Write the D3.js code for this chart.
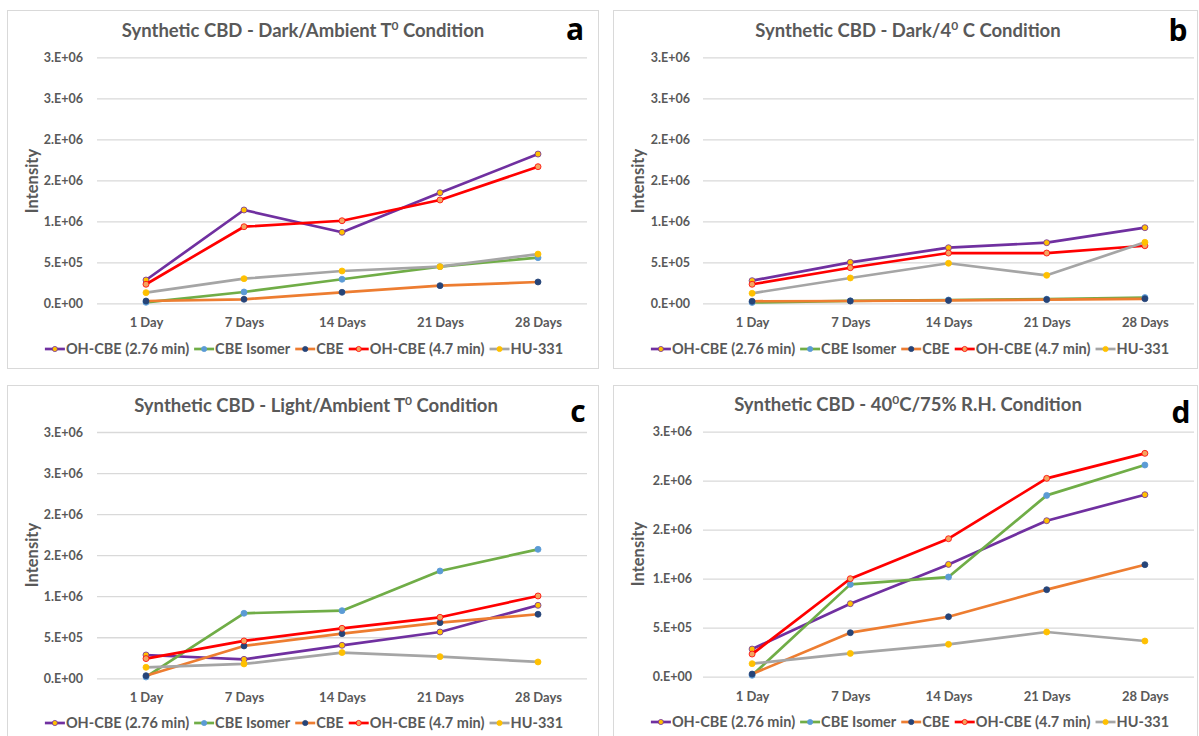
<!DOCTYPE html>
<html>
<head>
<meta charset="utf-8">
<script src="https://cdn.jsdelivr.net/npm/d3@7/dist/d3.min.js"></script>
<style>
  html, body { margin: 0; padding: 0; background: #ffffff; }
  svg { display: block; }
  text { font-family: Lato, "Open Sans", sans-serif; font-weight: 700; fill: #595959; }
</style>
</head>
<body>
<svg id="chart" width="1199" height="736"></svg>
<script>
// ---- data ----
const categories = ["1 Day", "7 Days", "14 Days", "21 Days", "28 Days"];
const seriesNames = ["OH-CBE (2.76 min)", "CBE Isomer", "CBE", "OH-CBE (4.7 min)", "HU-331"];

// tick values for the intensity axes
const ticksTo3M = [0, 5e5, 1e6, 1.5e6, 2e6, 2.5e6, 3e6];
const ticksTo25M = [0, 5e5, 1e6, 1.5e6, 2e6, 2.5e6];

// (a) Dark / ambient temperature — rows follow seriesNames
const darkAmbient = [
  [284000, 1138000, 866000, 1349000, 1820000],
  [12000, 138000, 293000, 447000, 556000],
  [28000, 49000, 134000, 215000, 260000],
  [232000, 934000, 1007000, 1260000, 1666000],
  [130000, 300000, 394000, 447000, 600000]
];

// (b) Dark / 4 °C
const dark4C = [
  [276000, 500000, 678000, 739000, 922000],
  [10000, 30000, 40000, 50000, 70000],
  [25000, 28000, 35000, 45000, 55000],
  [232000, 434000, 613000, 613000, 702000],
  [122000, 309000, 488000, 341000, 744000]
];

// (c) Light / ambient temperature
const lightAmbient = [
  [284000, 231000, 402000, 564000, 889000],
  [16000, 792000, 824000, 1307000, 1571000],
  [32000, 394000, 544000, 678000, 780000],
  [240000, 455000, 609000, 743000, 1003000],
  [134000, 175000, 313000, 264000, 199000]
];

// (d) 40 °C / 75 % relative humidity
const hotHumid = [
  [282000, 745000, 1146000, 1592000, 1857000],
  [14000, 942000, 1017000, 1850000, 2160000],
  [27000, 449000, 612000, 888000, 1143000],
  [231000, 1000000, 1408000, 2024000, 2279000],
  [133000, 238000, 330000, 456000, 364000]
];

// ---- styling ----
const lineColors = ["#7030A0", "#70AD47", "#ED7D31", "#FF0000", "#A5A5A5"];
const markerFills = ["#FFC000", "#5B9BD5", "#264478", "#F4A460", "#FFC000"];
const markerStrokes = ["#7030A0", "#5B9BD5", "#264478", "#FF0000", "#FFC000"];

// Excel-style "0.E+00" number format
function sciLabel(v) {
  if (v === 0) return "0.E+00";
  let e = Math.floor(Math.log10(Math.abs(v)));
  let m = Math.round(v / Math.pow(10, e));
  if (m >= 10) { m = 1; e += 1; }
  return m + ".E+" + String(e).padStart(2, "0");
}

const svg = d3.select("#chart");

const panels = [
  { data: darkAmbient, ticks: ticksTo3M, letter: "a",
    title: [["Synthetic CBD - Dark/Ambient T", false], ["0", true], [" Condition", false]],
    box: [7, 10, 598, 368], plotX: [97, 587], plotY: [303.3, 57.3],
    tickRight: 83, yTitleX: 32.5, yTitleY: 181, xLabelY: 322, legendY: 349, legendCx: 304,
    titleCx: 303, titleY: 31, letterX: 575, letterY: 29 },
  { data: dark4C, ticks: ticksTo3M, letter: "b",
    title: [["Synthetic CBD - Dark/4", false], ["0", true], [" C Condition", false]],
    box: [613, 10, 1197, 368], plotX: [703, 1194], plotY: [303.3, 57.3],
    tickRight: 690, yTitleX: 638, yTitleY: 181, xLabelY: 322, legendY: 349, legendCx: 910,
    titleCx: 908, titleY: 31, letterX: 1178, letterY: 30 },
  { data: lightAmbient, ticks: ticksTo3M, letter: "c",
    title: [["Synthetic CBD - Light/Ambient T", false], ["0", true], [" Condition", false]],
    box: [7, 385, 598, 745], plotX: [97, 587], plotY: [678.3, 432],
    tickRight: 83, yTitleX: 32.5, yTitleY: 555, xLabelY: 697, legendY: 723, legendCx: 304,
    titleCx: 316, titleY: 406, letterX: 578, letterY: 411 },
  { data: hotHumid, ticks: ticksTo25M, letter: "d",
    title: [["Synthetic CBD - 40", false], ["0", true], ["C/75% R.H. Condition", false]],
    box: [613, 385, 1197, 745], plotX: [703, 1194], plotY: [676.7, 431.7],
    tickRight: 692, yTitleX: 638, yTitleY: 554, xLabelY: 696, legendY: 722, legendCx: 910,
    titleCx: 908, titleY: 405, letterX: 1181, letterY: 412 }
];

panels.forEach(p => {
  const g = svg.append("g");
  const [bx0, by0, bx1, by1] = p.box;

  // chart frame
  g.append("rect")
    .attr("x", bx0 + 0.5).attr("y", by0 + 0.5)
    .attr("width", bx1 - bx0).attr("height", by1 - by0)
    .attr("fill", "#fff").attr("stroke", "#D9D9D9").attr("stroke-width", 1);

  const x = d3.scalePoint().domain(categories).range(p.plotX).padding(0.5);
  const y = d3.scaleLinear().domain([0, p.ticks[p.ticks.length - 1]]).range(p.plotY);

  // horizontal gridlines and value labels
  const yAxis = d3.axisLeft(y)
    .tickValues(p.ticks)
    .tickSize(-(p.plotX[1] - p.plotX[0]))
    .tickPadding(p.plotX[0] - p.tickRight)
    .tickFormat(sciLabel);
  const ya = g.append("g").attr("transform", `translate(${p.plotX[0]},0)`).call(yAxis);
  ya.select(".domain").remove();
  ya.selectAll(".tick line").attr("stroke", "#D9D9D9").attr("stroke-width", 1.3);
  ya.selectAll(".tick text")
    .attr("font-size", 12.5).style("font-family", "Lato, sans-serif").style("font-weight", 700)
    .style("fill", "#595959");

  // category labels
  const xAxis = d3.axisBottom(x).tickSize(0).tickPadding(0);
  const xa = g.append("g").attr("transform", `translate(0,${p.xLabelY})`).call(xAxis);
  xa.select(".domain").remove();
  xa.selectAll(".tick text")
    .attr("font-size", 13).attr("dy", "0.35em").attr("y", 0)
    .style("font-family", "Lato, sans-serif").style("font-weight", 700)
    .style("fill", "#595959");

  // axis title
  g.append("text")
    .attr("transform", `translate(${p.yTitleX},${p.yTitleY}) rotate(-90)`)
    .attr("text-anchor", "middle").attr("dy", "0.35em")
    .attr("font-size", 16.5)
    .text("Intensity");

  // chart title with superscript degree mark
  const t = g.append("text")
    .attr("x", p.titleCx).attr("y", p.titleY).attr("dy", "0.35em")
    .attr("text-anchor", "middle").attr("font-size", 18.5);
  let raised = false;
  p.title.forEach(([s, sup]) => {
    const ts = t.append("tspan").text(s);
    if (sup) {
      ts.attr("dy", -7).attr("font-size", 12);
      raised = true;
    } else if (raised) {
      ts.attr("dy", 7);
      raised = false;
    }
  });

  // panel letter
  g.append("text")
    .attr("x", p.letterX).attr("y", p.letterY).attr("dy", "0.35em")
    .attr("text-anchor", "middle").attr("font-size", 30)
    .style("font-family", "'Open Sans', sans-serif").style("font-weight", 700)
    .style("fill", "#000").text(p.letter);

  // series lines and markers
  const line = d3.line().x((d, i) => x(categories[i])).y(d => y(d));
  p.data.forEach((vals, si) => {
    g.append("path").datum(vals)
      .attr("d", line).attr("fill", "none")
      .attr("stroke", lineColors[si]).attr("stroke-width", 2.7)
      .attr("stroke-linejoin", "round").attr("stroke-linecap", "round");
    g.selectAll(null).data(vals).join("circle")
      .attr("cx", (d, i) => x(categories[i])).attr("cy", d => y(d))
      .attr("r", 3).attr("fill", markerFills[si])
      .attr("stroke", markerStrokes[si]).attr("stroke-width", 0.8);
  });

  // legend, centred under the plot
  const lg = g.append("g");
  const items = seriesNames.map((name, si) => {
    const it = lg.append("g");
    it.append("line").attr("x1", 0).attr("x2", 20).attr("y1", 0).attr("y2", 0)
      .attr("stroke", lineColors[si]).attr("stroke-width", 2.7);
    it.append("circle").attr("cx", 10).attr("cy", 0).attr("r", 2.6)
      .attr("fill", markerFills[si]).attr("stroke", markerStrokes[si]).attr("stroke-width", 0.8);
    const tx = it.append("text").attr("x", 21).attr("dy", "0.35em")
      .attr("font-size", 14.5).text(name);
    return { g: it, w: 21 + tx.node().getComputedTextLength() };
  });
  const gap = 5;
  const total = d3.sum(items, d => d.w) + gap * (items.length - 1);
  let cx = p.legendCx - total / 2;
  items.forEach(it => {
    it.g.attr("transform", `translate(${cx},${p.legendY})`);
    cx += it.w + gap;
  });
});
</script>
</body>
</html>
